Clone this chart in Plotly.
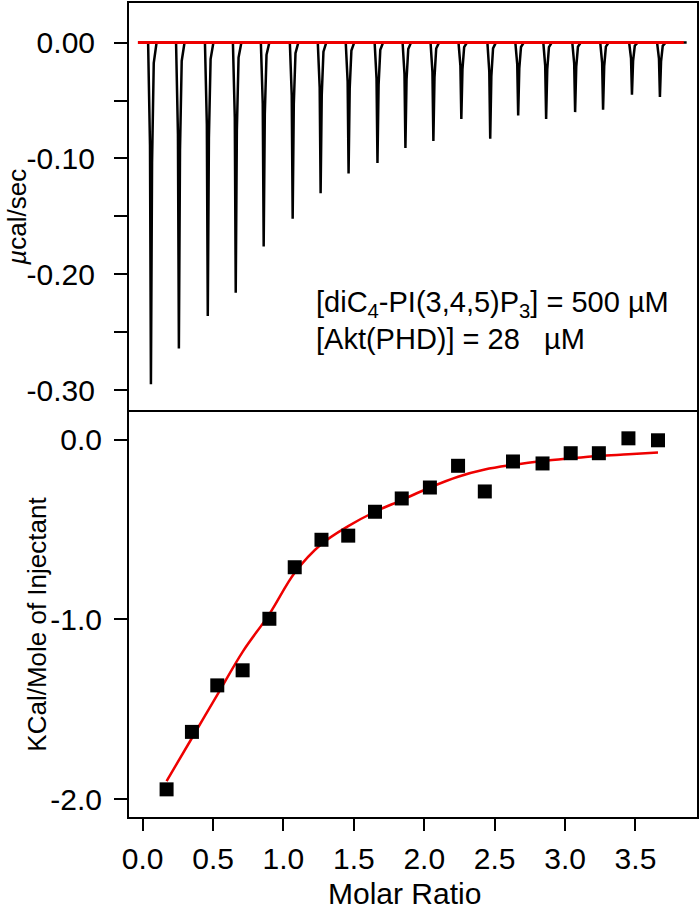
import plotly.graph_objects as go

# ---------------- data ----------------
# top panel: raw ITC thermogram (time in minutes, signal in µcal/sec)
injection_times = [1.38, 4.35, 7.42, 10.39, 13.36, 16.44, 19.41, 22.38, 25.45, 28.42,
                   31.39, 34.36, 37.43, 40.40, 43.37, 46.45, 49.42, 52.49, 55.46]
peak_depths = [-0.295, -0.264, -0.236, -0.216, -0.176, -0.152, -0.130, -0.113, -0.104, -0.091,
               -0.085, -0.066, -0.083, -0.063, -0.066, -0.060, -0.058, -0.045, -0.047]
# peak profile (offset in minutes, fraction of depth)
profile_dt = [-0.30, -0.10, 0.0, 0.12, 0.30, 0.60]
profile_frac = [0.0, 0.30, 1.0, 0.35, 0.06, 0.0]
trace_start, trace_end = 0.0, 58.3
baseline_times = [0.0, 58.0]
baseline_vals = [0.0, 0.0]

# bottom panel: integrated heats
molar_ratio = [0.17, 0.35, 0.53, 0.71, 0.90, 1.08, 1.27, 1.46, 1.65, 1.84,
               2.04, 2.24, 2.43, 2.63, 2.84, 3.04, 3.24, 3.45, 3.66]
heat = [-1.946, -1.626, -1.367, -1.283, -0.996, -0.709, -0.556, -0.533, -0.400, -0.326,
        -0.265, -0.144, -0.287, -0.120, -0.131, -0.074, -0.074, 0.009, -0.002]
fit = [-1.90, -1.66, -1.42, -1.18, -0.97, -0.74, -0.58, -0.48, -0.40, -0.335,
       -0.265, -0.205, -0.165, -0.139, -0.117, -0.102, -0.089, -0.080, -0.070]

top_ticks = [0.0, -0.05, -0.10, -0.15, -0.20, -0.25, -0.30]
top_ticktext = ["0.00", "", "-0.10", "", "-0.20", "", "-0.30"]
bot_ticks = [0.0, -1.0, -2.0]
bot_ticktext = ["0.0", "-1.0", "-2.0"]
x_ticks = [0.0, 0.5, 1.0, 1.5, 2.0, 2.5, 3.0, 3.5]
x_ticktext = ["0.0", "0.5", "1.0", "1.5", "2.0", "2.5", "3.0", "3.5"]

# build raw trace from the injection table
tx, ty = [trace_start], [0.0]
for t, d in zip(injection_times, peak_depths):
    for dt, fr in zip(profile_dt, profile_frac):
        tx.append(t + dt)
        ty.append(d * fr)
tx.append(trace_end)
ty.append(0.0)

FONT = "Liberation Sans, Arial, Helvetica, sans-serif"

fig = go.Figure()
fig.add_trace(go.Scatter(x=tx, y=ty, mode="lines", line=dict(color="black", width=2.5),
                         xaxis="x2", yaxis="y2", showlegend=False, hoverinfo="skip"))
fig.add_trace(go.Scatter(x=baseline_times, y=baseline_vals, mode="lines",
                         line=dict(color="#ee0000", width=3), xaxis="x2", yaxis="y2",
                         showlegend=False, hoverinfo="skip"))
fig.add_trace(go.Scatter(x=molar_ratio, y=fit, mode="lines",
                         line=dict(color="#ee0000", width=2.5, shape="spline"),
                         xaxis="x", yaxis="y", showlegend=False))
fig.add_trace(go.Scatter(x=molar_ratio, y=heat, mode="markers",
                         marker=dict(symbol="square", size=14, color="black"),
                         xaxis="x", yaxis="y", showlegend=False))

line_style = dict(showline=True, linecolor="black", linewidth=2,
                  showgrid=False, zeroline=False)

fig.update_layout(
    width=700, height=909,
    margin=dict(l=129, r=2, t=1, b=92),
    plot_bgcolor="white", paper_bgcolor="white",
    font=dict(family=FONT, size=30, color="black"),
    xaxis=dict(domain=[0, 1], range=[-0.097, 3.937], tickmode="array",
               tickvals=x_ticks, ticktext=x_ticktext, ticks="outside", ticklen=12,
               tickwidth=2, tickcolor="black", anchor="y", mirror=False,
               ticklabelstandoff=2, **line_style),
    yaxis=dict(domain=[0, 0.5], range=[-2.1, 0.1667], tickmode="array",
               tickvals=bot_ticks, ticktext=bot_ticktext, ticks="outside", ticklen=13,
               tickwidth=2, tickcolor="black", anchor="x", ticklabelstandoff=6,
               mirror=True, **line_style),
    xaxis2=dict(domain=[0, 1], range=[-0.95, 59.4], showticklabels=False, ticks="",
                anchor="y2", mirror=True, **line_style),
    yaxis2=dict(domain=[0.5, 1], range=[-0.3172, 0.0342], tickmode="array",
                tickvals=top_ticks, ticktext=top_ticktext, ticks="outside", ticklen=13,
                tickwidth=2, tickcolor="black", anchor="x2", ticklabelstandoff=13,
                mirror=True, **line_style),
    annotations=[
        dict(text="Molar Ratio", x=0.485, y=-0.0935, xref="paper", yref="paper",
             showarrow=False, font=dict(size=30), xanchor="center", yanchor="middle"),
        dict(text="<i>µ</i>cal/sec", x=-0.1967, y=0.7365, xref="paper", yref="paper",
             textangle=-90, showarrow=False, font=dict(size=26),
             xanchor="center", yanchor="middle"),
        dict(text="KCal/Mole of Injectant", x=-0.1616, y=0.2365, xref="paper", yref="paper",
             textangle=-90, showarrow=False, font=dict(size=26),
             xanchor="center", yanchor="middle"),
        dict(text="[diC<sub>4</sub>-PI(3,4,5)P<sub>3</sub>] = 500 µM", x=0.325, y=0.630,
             xref="paper", yref="paper", showarrow=False, font=dict(size=29),
             xanchor="left", yanchor="middle"),
        dict(text="[Akt(PHD)] = 28   µM", x=0.325, y=0.587,
             xref="paper", yref="paper", showarrow=False, font=dict(size=29),
             xanchor="left", yanchor="middle"),
    ],
)

fig.write_html("out.html", config={"displayModeBar": False},
               post_script="document.body.style.margin='0';")
